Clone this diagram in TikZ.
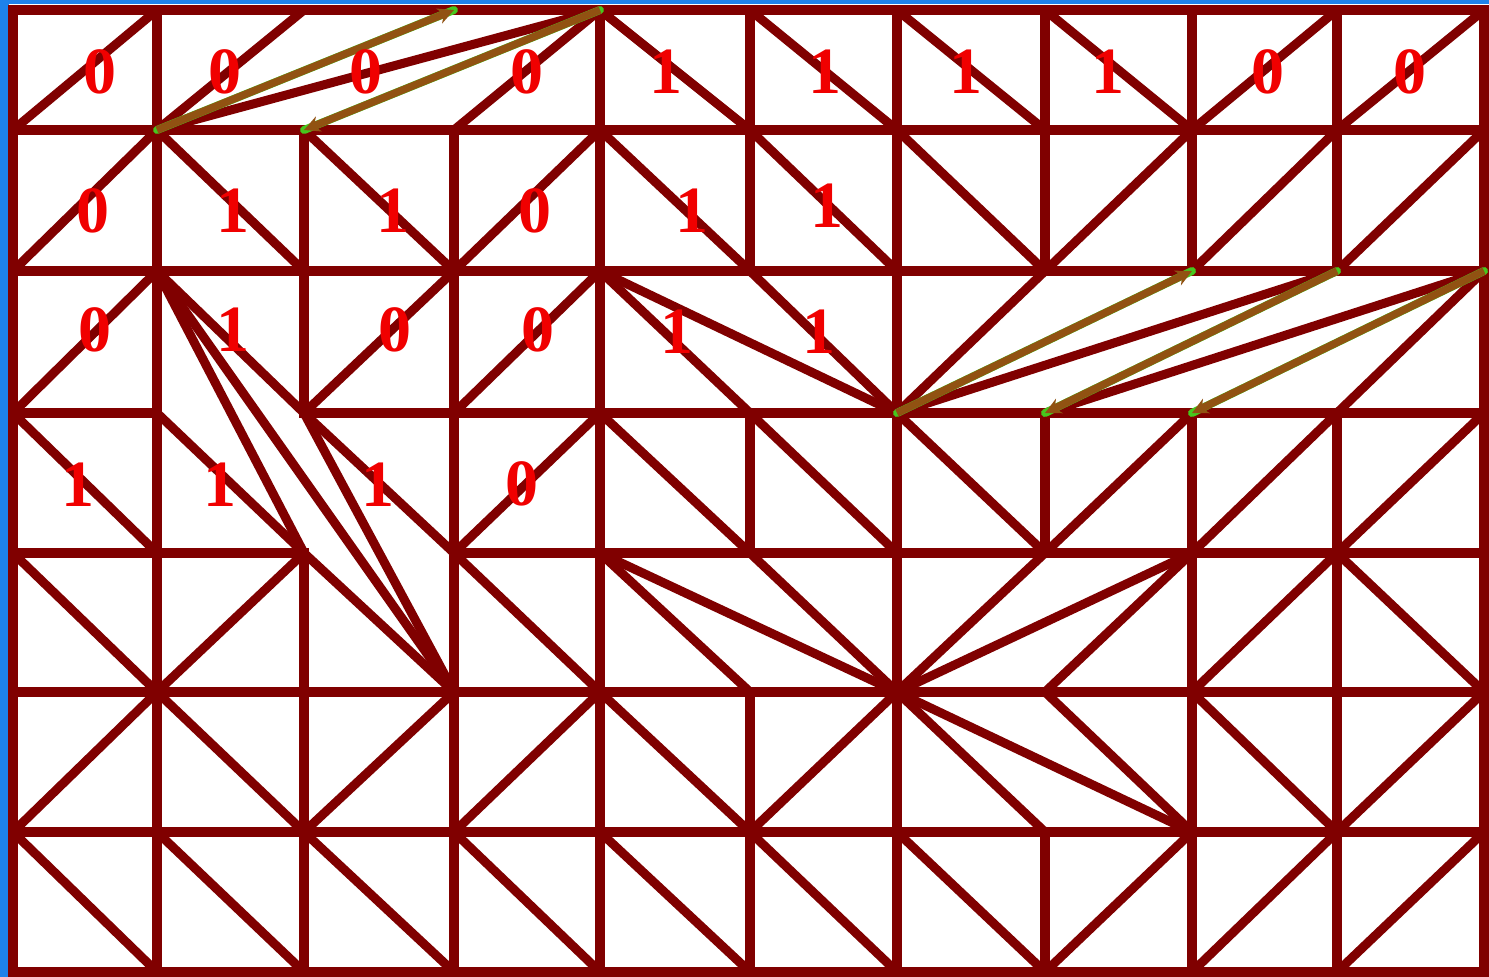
\documentclass[tikz,border=0pt]{standalone}
\usepackage{fontspec}
\setmainfont{Liberation Serif}
\usetikzlibrary{arrows.meta}
\definecolor{gridred}{RGB}{128,0,0}
\definecolor{brownarrow}{RGB}{145,82,18}
\definecolor{edgegreen}{RGB}{70,200,30}
\definecolor{bgblue}{RGB}{30,130,235}
\definecolor{digitred}{RGB}{240,0,0}
\begin{document}
\begin{tikzpicture}[x=1pt,y=-1pt,
  gridline/.style={draw=gridred,line width=10pt,line cap=rect},
  diag/.style={draw=gridred,line width=9pt,line cap=round},
  longline/.style={draw=gridred,line width=9pt,line cap=round},
  greenedge/.style={draw=edgegreen,line width=8pt,line cap=round},
  movearrow/.style={draw=brownarrow,line width=7.5pt,-{Stealth[length=16pt,width=16pt]}},
  bit/.style={text=digitred,font=\fontsize{66}{66}\bfseries\selectfont,inner sep=0pt}]
\useasboundingbox (0,0) rectangle (1489,977);
\fill[bgblue] (0,0) rectangle (1489,977);
\fill[white] (9,4) rectangle (1489,977);
% grid points
\foreach \x [count=\i from 0] in {13,157,304,454,600,750,897,1045,1192,1337,1484}{
  \foreach \y [count=\j from 0] in {10,130,271,413,553,692,832,972}{
    \coordinate (p\i-\j) at (\x,\y);
  }
}
% horizontal segments (two are missing)
\foreach \m in {1-3,2-4}{\expandafter\gdef\csname hmiss\m\endcsname{}}
\foreach \j in {0,...,7}{
  \foreach \i [evaluate=\i as \in using int(\i+1)] in {0,...,9}{
    \ifcsname hmiss\i-\j\endcsname\else\draw[gridline] (p\i-\j) -- (p\in-\j);\fi
  }
}
% vertical segments (some are missing)
\foreach \m in {2-0,3-0,5-2,7-2,8-2,9-2,2-3,5-4,7-4,7-5}{\expandafter\gdef\csname vmiss\m\endcsname{}}
\foreach \i in {0,...,10}{
  \foreach \j [evaluate=\j as \jn using int(\j+1)] in {0,...,6}{
    \ifcsname vmiss\i-\j\endcsname\else\draw[gridline] (p\i-\j) -- (p\i-\jn);\fi
  }
}
% cell diagonals: 1 = /, 2 = \, 0 = none
\foreach \row [count=\j from 0] in {
  {1,1,0,1,2,2,2,2,1,1},
  {1,2,2,1,2,2,2,1,1,1},
  {1,2,1,1,2,2,1,0,0,1},
  {2,2,2,1,2,2,2,1,1,1},
  {2,1,2,2,2,2,1,1,1,2},
  {1,2,1,1,2,1,2,2,2,1},
  {2,2,2,2,2,2,2,1,1,1}}{
  \foreach \d [count=\i from 0] in \row {
    \pgfmathtruncatemacro\ip{\i+1}
    \pgfmathtruncatemacro\jp{\j+1}
    \ifnum\d=1 \draw[diag] (p\i-\jp) -- (p\ip-\j);\fi
    \ifnum\d=2 \draw[diag] (p\i-\j) -- (p\ip-\jp);\fi
  }
}
% long dark-red lines
\draw[longline] (p1-1) -- (p4-0);
\draw[longline] (p1-2) -- (p2-4);
\draw[longline] (p1-2) -- (p3-5);
\draw[longline] (p2-3) -- (p3-5);
\draw[longline] (p4-2) -- (p6-3);
\draw[longline] (p6-3) -- (p9-2);
\draw[longline] (p7-3) -- (p10-2);
\draw[longline] (p4-4) -- (p6-5);
\draw[longline] (p6-5) -- (p8-4);
\draw[longline] (p6-5) -- (p8-6);
% brown move arrows with green edge
\foreach \a/\b in {p1-1/p3-0, p4-0/p2-1, p6-3/p8-2, p9-2/p7-3, p10-2/p8-3}{
  \draw[greenedge] (\a) -- (\b);
  \draw[movearrow] (\a) -- (\b);
}
% digits
\node[bit] (r0c0) at (100,72) {0};
\node[bit] (r0c1) at (225,72) {0};
\node[bit] (r0c2) at (366,72) {0};
\node[bit] (r0c3) at (527,72) {0};
\node[bit] (r0c4) at (666,72) {1};
\node[bit] (r0c5) at (825,72) {1};
\node[bit] (r0c6) at (966,72) {1};
\node[bit] (r0c7) at (1108,72) {1};
\node[bit] (r0c8) at (1268,72) {0};
\node[bit] (r0c9) at (1410,72) {0};
\node[bit] (r1c0) at (93,211) {0};
\node[bit] (r1c1) at (233,211) {1};
\node[bit] (r1c2) at (393,211) {1};
\node[bit] (r1c3) at (535,211) {0};
\node[bit] (r1c4) at (692,211) {1};
\node[bit] (r1c5) at (827,206) {1};
\node[bit] (r2c0) at (95,330) {0};
\node[bit] (r2c1) at (233,330) {1};
\node[bit] (r2c2) at (395,330) {0};
\node[bit] (r2c3) at (538,330) {0};
\node[bit] (r2c4) at (677,332) {1};
\node[bit] (r2c5) at (819,332) {1};
\node[bit] (r3c0) at (78,485) {1};
\node[bit] (r3c1) at (220,485) {1};
\node[bit] (r3c2) at (378,485) {1};
\node[bit] (r3c3) at (522,484) {0};
\end{tikzpicture}
\end{document}
